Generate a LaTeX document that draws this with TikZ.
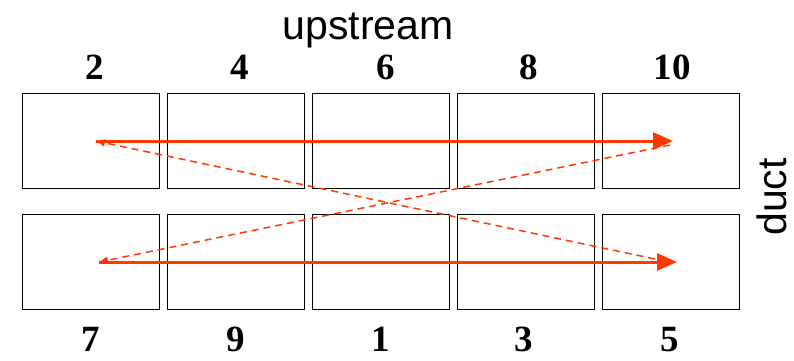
\documentclass[tikz,border=0pt]{standalone}
\usepackage{fontspec}
\setmainfont{Liberation Serif}
\newfontfamily\labelsans{Liberation Sans}
\usetikzlibrary{arrows.meta}
\definecolor{arrowred}{RGB}{255,58,0}
\tikzset{
  cell/.style={draw=black, line width=1.1pt, minimum width=137pt, minimum height=95pt, inner sep=0pt, outer sep=0pt},
  num/.style={font=\fontsize{37}{40}\selectfont\bfseries, anchor=base, inner sep=0pt},
  caption/.style={font=\labelsans\fontsize{41}{44}\selectfont, inner sep=0pt},
  solidarrow/.style={draw=arrowred, line width=3pt, -{Triangle[length=20pt,width=17pt]}},
  dasharrow/.style={draw=arrowred, line width=1.5pt, dash pattern=on 7pt off 5pt, -{Triangle[length=9pt,width=7pt]}}
}
\begin{document}
\begin{tikzpicture}[x=1pt,y=1pt]
\useasboundingbox (0,0) rectangle (794,-360);
% boxes
\foreach \i/\n in {0/1,1/2,2/3,3/4,4/5}{
  \node[cell] (t\n) at ({91+145*\i},-141) {};
  \node[cell] (b\n) at ({91+145*\i},-262) {};
}
% numbers
\node[num] (n2) at (95,-79) {2};
\node[num] (n4) at (240,-79) {4};
\node[num] (n6) at (386,-79) {6};
\node[num] (n8) at (529,-79) {8};
\node[num] (n10) at (672,-79) {10};
\node[num] (n7) at (91,-351) {7};
\node[num] (n9) at (236,-351) {9};
\node[num] (n1) at (381,-351) {1};
\node[num] (n3) at (524,-351) {3};
\node[num] (n5) at (670,-351) {5};
% captions
\node[caption] (up) at (368,-30) {upstream};
\node[caption, rotate=90] (duct) at (772,-197) {duct};
% arrow end points
\coordinate (tls) at (96,-141);
\coordinate (tre) at (673,-141);
\coordinate (bls) at (99,-262);
\coordinate (bre) at (677,-262);
\coordinate (dts) at (670,-145);
\coordinate (dte) at (99,-262);
\coordinate (dbs) at (655,-259);
\coordinate (dbe) at (96,-141);
% arrows
\draw[solidarrow] (tls) -- (tre);
\draw[solidarrow] (bls) -- (bre);
\draw[dasharrow] (dts) -- (dte);
\draw[dasharrow] (dbs) -- (dbe);
\end{tikzpicture}
\end{document}
